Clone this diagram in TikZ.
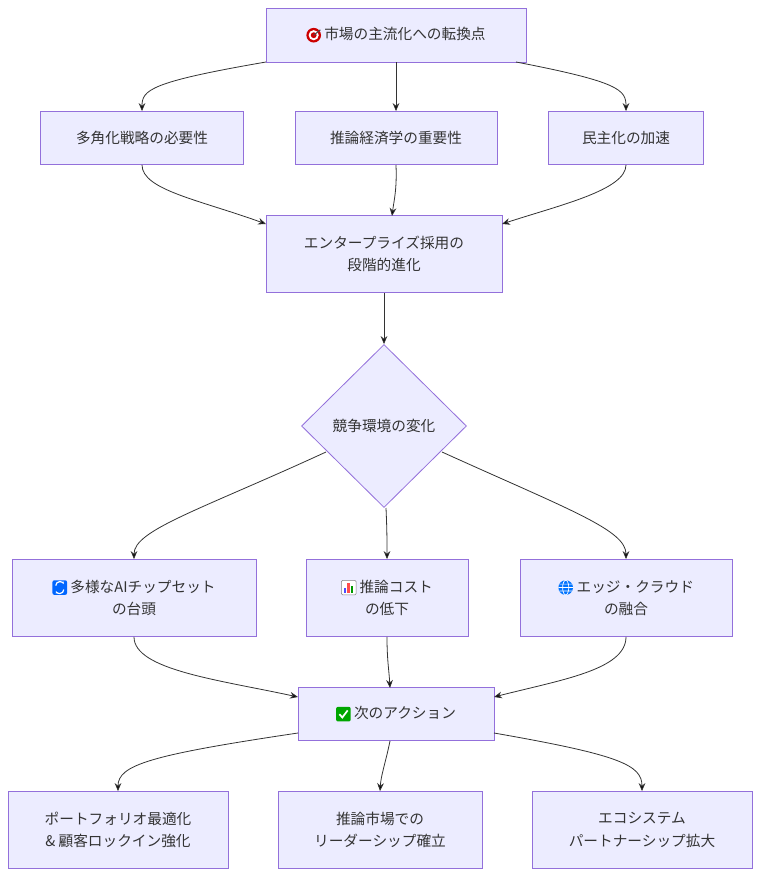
\documentclass[tikz,border=0pt]{standalone}
\usepackage{fontspec}
\setmainfont{Noto Sans CJK JP}
\usetikzlibrary{shapes.geometric,arrows.meta}
\definecolor{nf}{HTML}{ECECFF}\definecolor{nb}{HTML}{9370DB}\definecolor{tx}{HTML}{333333}
\newcommand{\icTarget}{\tikz[baseline=-3.5pt]{\fill[red!80!black](0,0)circle(5.5pt);\fill[white](0,0)circle(3.8pt);\fill[red!80!black](0,0)circle(2.2pt);\draw[gray!60!black,line width=0.8pt](0,0)--(5pt,4pt);}}
\newcommand{\icCycle}{\tikz[baseline=-3.5pt]{\fill[blue!60!cyan,rounded corners=1.5pt](-5.5pt,-5.5pt)rectangle(5.5pt,5.5pt);\draw[white,line width=0.9pt,-{Stealth[length=2pt]}](-3pt,1.5pt)arc(180:20:3pt);\draw[white,line width=0.9pt,-{Stealth[length=2pt]}](3pt,-1.5pt)arc(0:-160:3pt);}}
\newcommand{\icChart}{\tikz[baseline=-3.5pt]{\draw[gray,fill=white,rounded corners=1pt](-5.5pt,-5.5pt)rectangle(5.5pt,5.5pt);\fill[blue!70](-3.5pt,-4pt)rectangle(-1.8pt,0pt);\fill[red!70](-0.9pt,-4pt)rectangle(0.9pt,3.5pt);\fill[green!60!black](1.8pt,-4pt)rectangle(3.5pt,1pt);}}
\newcommand{\icGlobe}{\tikz[baseline=-3.5pt]{\fill[blue!55!cyan](0,0)circle(5.5pt);\draw[white,line width=0.5pt](0,0)ellipse(2.3pt and 5.5pt)(-5.5pt,0)--(5.5pt,0)(-4.8pt,2.6pt)--(4.8pt,2.6pt)(-4.8pt,-2.6pt)--(4.8pt,-2.6pt);}}
\newcommand{\icCheck}{\tikz[baseline=-3.5pt]{\fill[green!65!black,rounded corners=1.5pt](-5.5pt,-5.5pt)rectangle(5.5pt,5.5pt);\draw[white,line width=1.3pt](-3pt,0)--(-0.8pt,-2.5pt)--(3.2pt,2.8pt);}}
\begin{document}
\begin{tikzpicture}[x=0.75pt,y=-0.75pt,
 box/.style={draw=nb,fill=nf,line width=0.6pt,text=tx,align=center,inner sep=0pt,font=\fontsize{11}{17}\selectfont},
 dia/.style={diamond,draw=nb,fill=nf,line width=0.6pt,text=tx,inner sep=0pt,font=\fontsize{11}{17}\selectfont,minimum width=165*0.75pt,minimum height=163*0.75pt},
 e/.style={draw=tx,line width=0.6pt,-{Stealth[length=6pt,width=5pt]}}]
\useasboundingbox (0,0) rectangle (760,878);
\newcommand{\bx}[6]{\node[box,minimum width=#4*0.75pt,minimum height=#5*0.75pt] (#1) at (#2,#3) {#6};}
\bx{T}{396}{35}{260}{54}{\icTarget\ 市場の主流化への転換点}
\bx{A1}{142}{138}{203}{53}{多角化戦略の必要性}
\bx{A2}{396}{138}{202}{53}{推論経済学の重要性}
\bx{A3}{626}{138}{155}{53}{民主化の加速}
\bx{B}{384}{254}{236}{77}{エンタープライズ採用の\\段階的進化}
\node[dia] (M) at (384,426) {競争環境の変化};
\bx{C1}{134}{598}{244}{77}{\icCycle\ 多様なAIチップセット\\の台頭}
\bx{C2}{387}{598}{162}{77}{\icChart\ 推論コスト\\の低下}
\bx{C3}{626}{598}{212}{77}{\icGlobe\ エッジ・クラウド\\の融合}
\bx{D}{396}{714}{196}{53}{\icCheck\ 次のアクション}
\bx{E1}{118}{830}{220}{77}{ポートフォリオ最適化\\\& 顧客ロックイン強化}
\bx{E2}{380}{830}{204}{77}{推論市場での\\リーダーシップ確立}
\bx{E3}{642}{830}{220}{77}{エコシステム\\パートナーシップ拡大}
% edges
\draw[e] (266,62) .. controls (150,82) and (142,90) .. (A1.north);
\draw[e] (A2.north|-T.south) -- (A2.north);
\draw[e] (516,62) .. controls (620,82) and (626,90) .. (A3.north);
\draw[e] (A1.south) .. controls (142,190) and (200,200) .. (266,224);
\draw[e] (396,165) .. controls (397,190) and (394,200) .. (392,216);
\draw[e] (A3.south) .. controls (626,190) and (560,205) .. (502,224);
\draw[e] (B.south) -- (M.north);
\draw[e] (326,452) .. controls (200,510) and (134,530) .. (C1.north);
\draw[e] (386,508) .. controls (387,530) and (387,540) .. (C2.north);
\draw[e] (442,452) .. controls (570,510) and (626,530) .. (C3.north);
\draw[e] (C1.south) .. controls (134,670) and (220,680) .. (298,697);
\draw[e] (C2.south) .. controls (387,660) and (389,670) .. (390,688);
\draw[e] (C3.south) .. controls (626,670) and (560,680) .. (494,697);
\draw[e] (298,733) .. controls (150,755) and (118,765) .. (E1.north);
\draw[e] (390,741) .. controls (385,765) and (381,775) .. (E2.north);
\draw[e] (494,733) .. controls (620,755) and (642,765) .. (E3.north);
\end{tikzpicture}
\end{document}
